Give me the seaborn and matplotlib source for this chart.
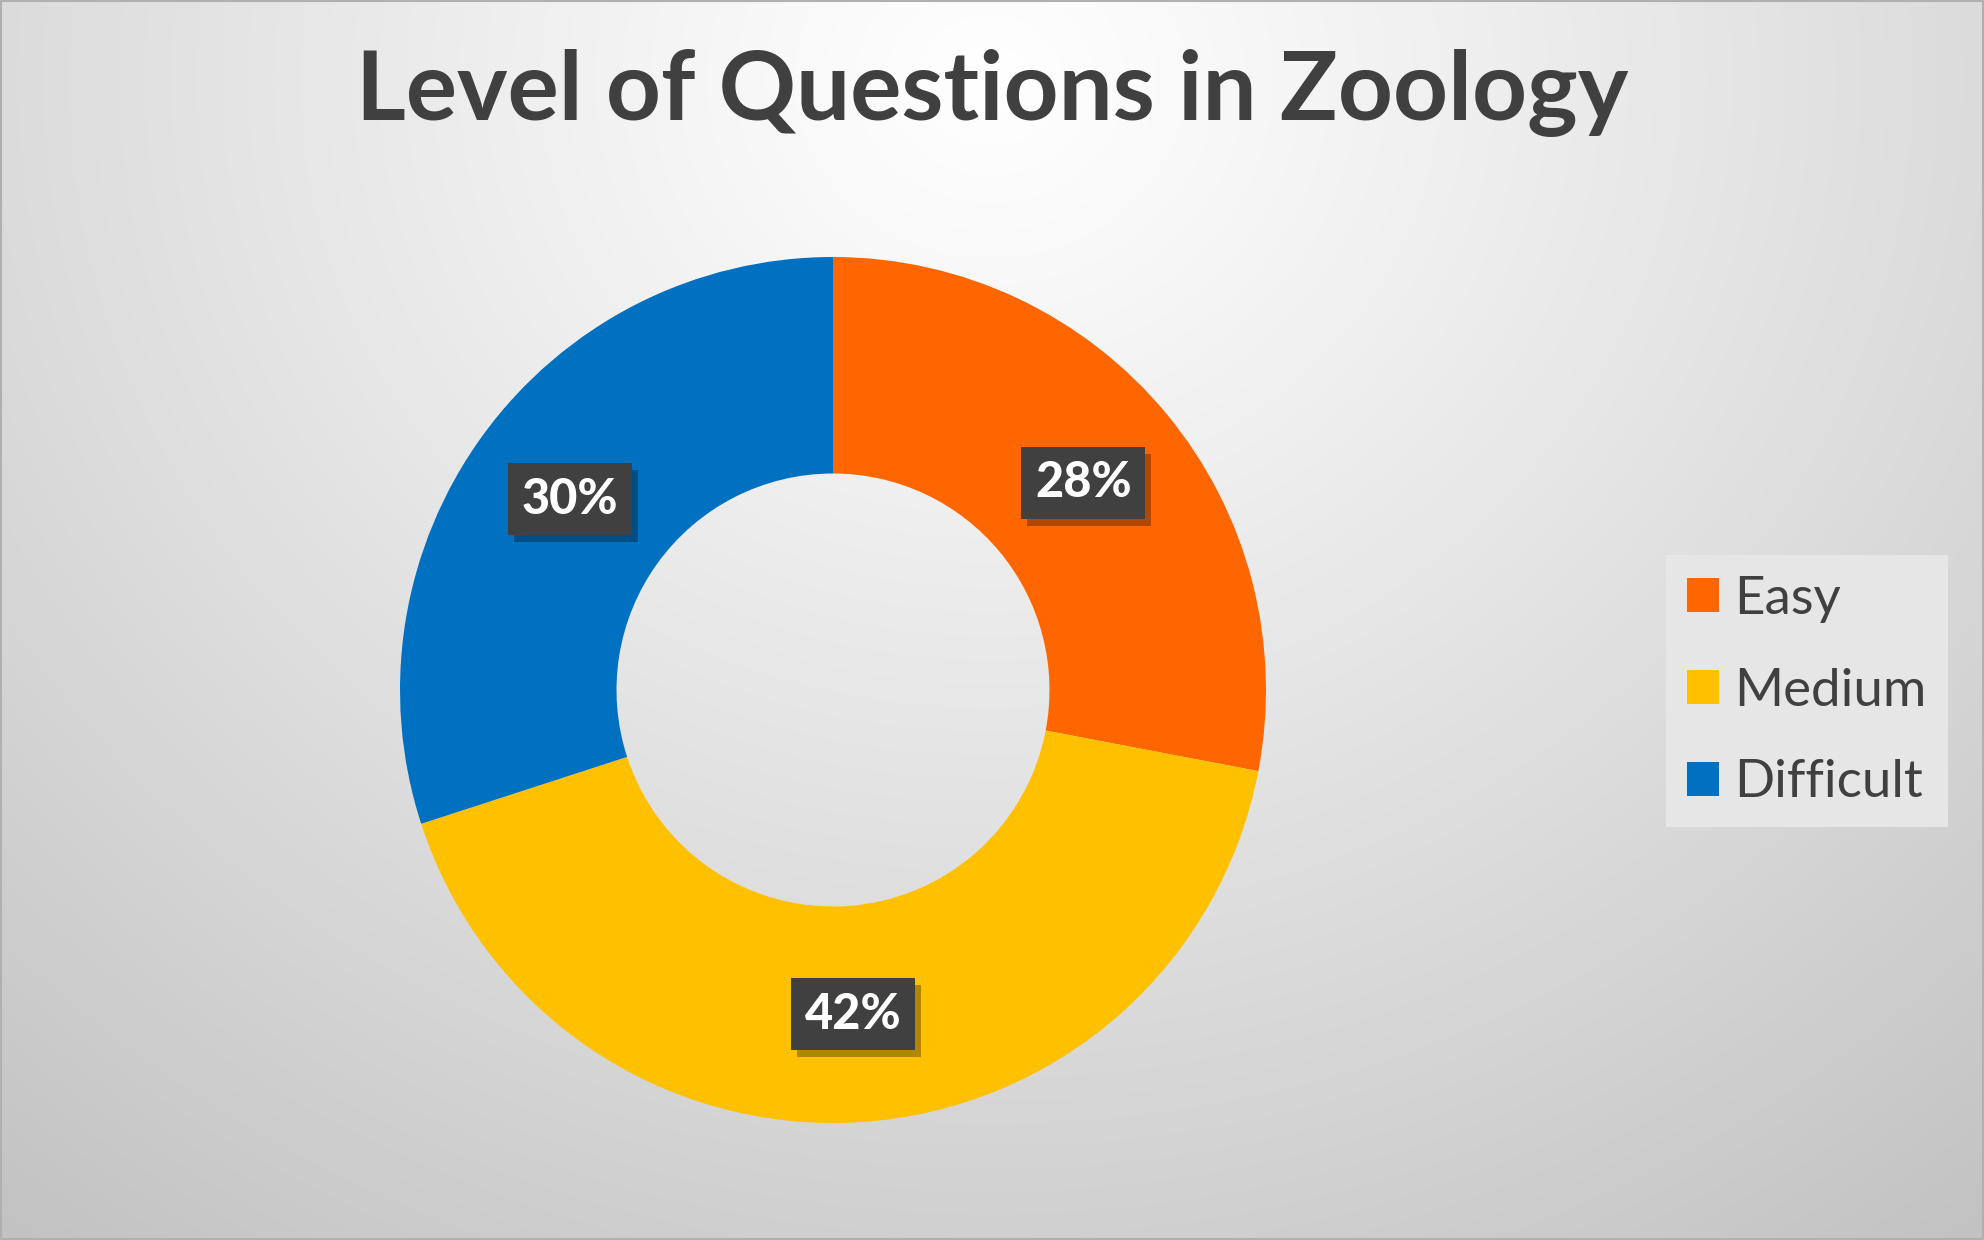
import numpy as np
import matplotlib
matplotlib.use("Agg")
import matplotlib.pyplot as plt
import matplotlib.patheffects as pe
import seaborn as sns

categories = ["Easy", "Medium", "Difficult"]
values = [28, 42, 30]
colors = ["#FF6600", "#FFC000", "#0070C0"]
title = "Level of Questions in Zoology"

sns.set_theme(style="white")
plt.rcParams['font.family'] = ['Lato', 'DejaVu Sans']

W, H = 1984, 1240
fig = plt.figure(figsize=(W / 100, H / 100), dpi=100)

# background gradient
bg = fig.add_axes([0, 0, 1, 1], zorder=0)
yy, xx = np.mgrid[0:H, 0:W]
d = np.hypot(xx - 990, (yy - 80) * 1.1)
v = 1.0 - 0.24 * (d / d.max()) ** 1.1
img = np.dstack([v, v, v])
bg.imshow(img, extent=[0, W, H, 0], aspect='auto')
bg.set_xlim(0, W)
bg.set_ylim(H, 0)
bg.axis('off')
bg.add_patch(plt.Rectangle((1, 1), W - 2, H - 2, fill=False, edgecolor='#b0b0b0', lw=1.5))

# pie axes: center (833, 690), radius 433
cx, cy, R = 833, 690, 433
ax = fig.add_axes([(cx - R) / W, (H - cy - R) / H, 2 * R / W, 2 * R / H], zorder=1)
palette = sns.color_palette(colors)
wedges, _ = ax.pie(values, colors=palette, startangle=90, counterclock=False,
                   radius=1.0, wedgeprops=dict(width=0.5, edgecolor='none'))
ax.set_xlim(-1, 1)
ax.set_ylim(-1, 1)
ax.set_aspect('equal')
ax.axis('off')

# data labels
start = 90.0
total = sum(values)
for val in values:
    sweep = 360.0 * val / total
    mid = np.deg2rad(start - sweep / 2)
    start -= sweep
    x, y = 0.75 * np.cos(mid), 0.75 * np.sin(mid)
    t = ax.text(x, y, f"{val}%", fontsize=35, fontweight='black', color='white',
                ha='center', va='center',
                bbox=dict(boxstyle='square,pad=0.28', facecolor='#404040', edgecolor='none'))
    t.get_bbox_patch().set_path_effects([
        pe.SimplePatchShadow(offset=(4, -5), shadow_rgbFace='black', alpha=0.3),
        pe.Normal()])

fig.text(0.5, 1 - 93 / H, title, ha='center', va='center', fontsize=69,
         fontweight='bold', color='#404040')

leg = fig.legend(wedges, categories, loc='center left',
                 bbox_to_anchor=(1666 / W, 1 - 691 / H),
                 fontsize=38, frameon=True, facecolor='#e6e6e6', edgecolor='none',
                 framealpha=1, handlelength=0.6, handleheight=0.6, handletextpad=0.3,
                 labelspacing=0.85, borderpad=0.4, borderaxespad=0, fancybox=False)
for tx in leg.get_texts():
    tx.set_color('#404040')

fig.savefig("out.png", dpi=100)
